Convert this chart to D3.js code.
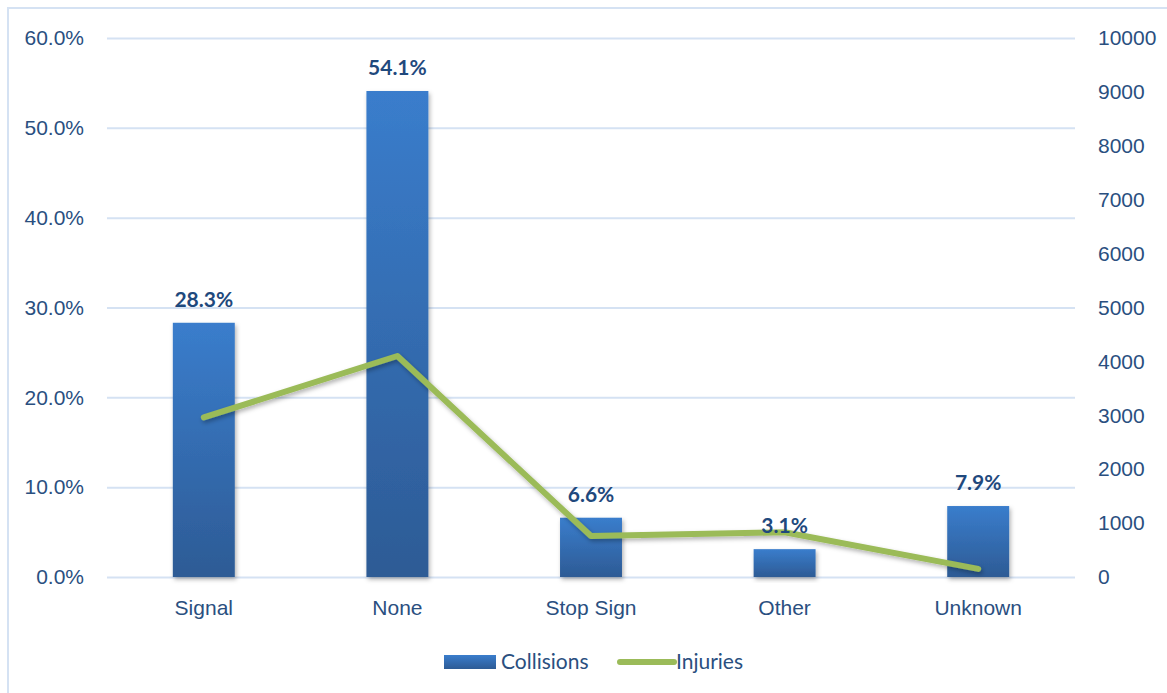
<!DOCTYPE html>
<html>
<head>
<meta charset="utf-8">
<script src="https://cdn.jsdelivr.net/npm/d3@7"></script>
<style>
  html, body { margin: 0; padding: 0; background: #fff; }
  svg { display: block; font-family: Lato, "Open Sans", sans-serif; }
</style>
</head>
<body>
<script>
// Collisions share (%) and injury counts by traffic control type
const categories = ["Signal", "None", "Stop Sign", "Other", "Unknown"];
const collisionsPct = [28.3, 54.1, 6.6, 3.1, 7.9];
const injuries = [2960, 4100, 760, 830, 150];
const leftTicks = [0, 10, 20, 30, 40, 50, 60];
const rightTicks = [0, 1000, 2000, 3000, 4000, 5000, 6000, 7000, 8000, 9000, 10000];
const seriesNames = ["Collisions", "Injuries"];

const W = 1167, H = 693;
const plot = { left: 107, right: 1075, top: 38, bottom: 577 };
const textColor = "#2a4f7f";
const gridColor = "#d5e2f3";
const lineColor = "#9bbb59";
const fontSize = 21;

const svg = d3.select("body").append("svg").attr("width", W).attr("height", H);
const defs = svg.append("defs");

const grad = defs.append("linearGradient").attr("id", "barGrad")
  .attr("x1", 0).attr("y1", 0).attr("x2", 0).attr("y2", 1);
grad.append("stop").attr("offset", "0%").attr("stop-color", "#3a7dcc");
grad.append("stop").attr("offset", "100%").attr("stop-color", "#2d5b95");

const shadow = defs.append("filter").attr("id", "shadow")
  .attr("x", "-20%").attr("y", "-20%").attr("width", "140%").attr("height", "140%");
shadow.append("feDropShadow").attr("dx", 1.5).attr("dy", 2.5)
  .attr("stdDeviation", 2).attr("flood-color", "#000").attr("flood-opacity", 0.3);

// outer frame (only left/top edges fall inside the view)
svg.append("rect").attr("x", 8).attr("y", 8).attr("width", W).attr("height", H)
  .attr("fill", "none").attr("stroke", gridColor).attr("stroke-width", 2);

const x = d3.scaleBand().domain(categories).range([plot.left, plot.right]).padding(0.68).paddingOuter(0.34);
const yL = d3.scaleLinear().domain([0, 60]).range([plot.bottom, plot.top]);
const yR = d3.scaleLinear().domain([0, 10000]).range([plot.bottom, plot.top]);

// gridlines
svg.append("g").selectAll("line").data(leftTicks).join("line")
  .attr("x1", plot.left).attr("x2", plot.right)
  .attr("y1", d => yL(d) + 0.5).attr("y2", d => yL(d) + 0.5)
  .attr("stroke", gridColor).attr("stroke-width", 2);

// left axis
const leftAxis = svg.append("g").attr("transform", `translate(${plot.left},0)`)
  .call(d3.axisLeft(yL).tickValues(leftTicks).tickSize(0).tickPadding(23).tickFormat(d => d.toFixed(1) + "%"));
leftAxis.select(".domain").remove();
leftAxis.selectAll("text").attr("fill", textColor).attr("font-size", fontSize);

// right axis
const rightAxis = svg.append("g").attr("transform", `translate(${plot.right},0)`)
  .call(d3.axisRight(yR).tickValues(rightTicks).tickSize(0).tickPadding(23).tickFormat(d3.format("d")));
rightAxis.select(".domain").remove();
rightAxis.selectAll("text").attr("fill", textColor).attr("font-size", fontSize);

// bottom axis
const bottomAxis = svg.append("g").attr("transform", `translate(0,${plot.bottom})`)
  .call(d3.axisBottom(x).tickSize(0).tickPadding(23));
bottomAxis.select(".domain").remove();
bottomAxis.selectAll("text").attr("fill", textColor).attr("font-size", fontSize);

// bars
svg.append("g").selectAll("rect").data(categories).join("rect")
  .attr("x", d => x(d))
  .attr("y", (d, i) => yL(collisionsPct[i]))
  .attr("width", x.bandwidth())
  .attr("height", (d, i) => yL(0) - yL(collisionsPct[i]))
  .attr("fill", "url(#barGrad)")
  .attr("filter", "url(#shadow)");

// injuries line
const line = d3.line()
  .x((d, i) => x(categories[i]) + x.bandwidth() / 2)
  .y(d => yR(d));
svg.append("path").datum(injuries)
  .attr("d", line)
  .attr("fill", "none").attr("stroke", lineColor).attr("stroke-width", 6)
  .attr("stroke-linecap", "round").attr("stroke-linejoin", "round")
  .attr("filter", "url(#shadow)");

// bar value labels (on top of the line)
svg.append("g").selectAll("text").data(categories).join("text")
  .attr("x", d => x(d) + x.bandwidth() / 2)
  .attr("y", (d, i) => yL(collisionsPct[i]) - 16)
  .attr("text-anchor", "middle")
  .attr("fill", "#1f497d").attr("font-size", fontSize).attr("font-weight", "bold")
  .text((d, i) => collisionsPct[i].toFixed(1) + "%");

// legend
const legend = svg.append("g").attr("transform", "translate(444,662)");
legend.append("rect").attr("x", 0).attr("y", -7).attr("width", 52).attr("height", 14).attr("fill", "url(#barGrad)");
legend.append("text").attr("x", 57).attr("y", 0).attr("dy", "0.35em")
  .attr("fill", textColor).attr("font-size", fontSize).text(seriesNames[0]);
legend.append("line").attr("x1", 176).attr("x2", 230).attr("y1", 0).attr("y2", 0)
  .attr("stroke", lineColor).attr("stroke-width", 6).attr("stroke-linecap", "round");
legend.append("text").attr("x", 232).attr("y", 0).attr("dy", "0.35em")
  .attr("fill", textColor).attr("font-size", fontSize).text(seriesNames[1]);
</script>
</body>
</html>
